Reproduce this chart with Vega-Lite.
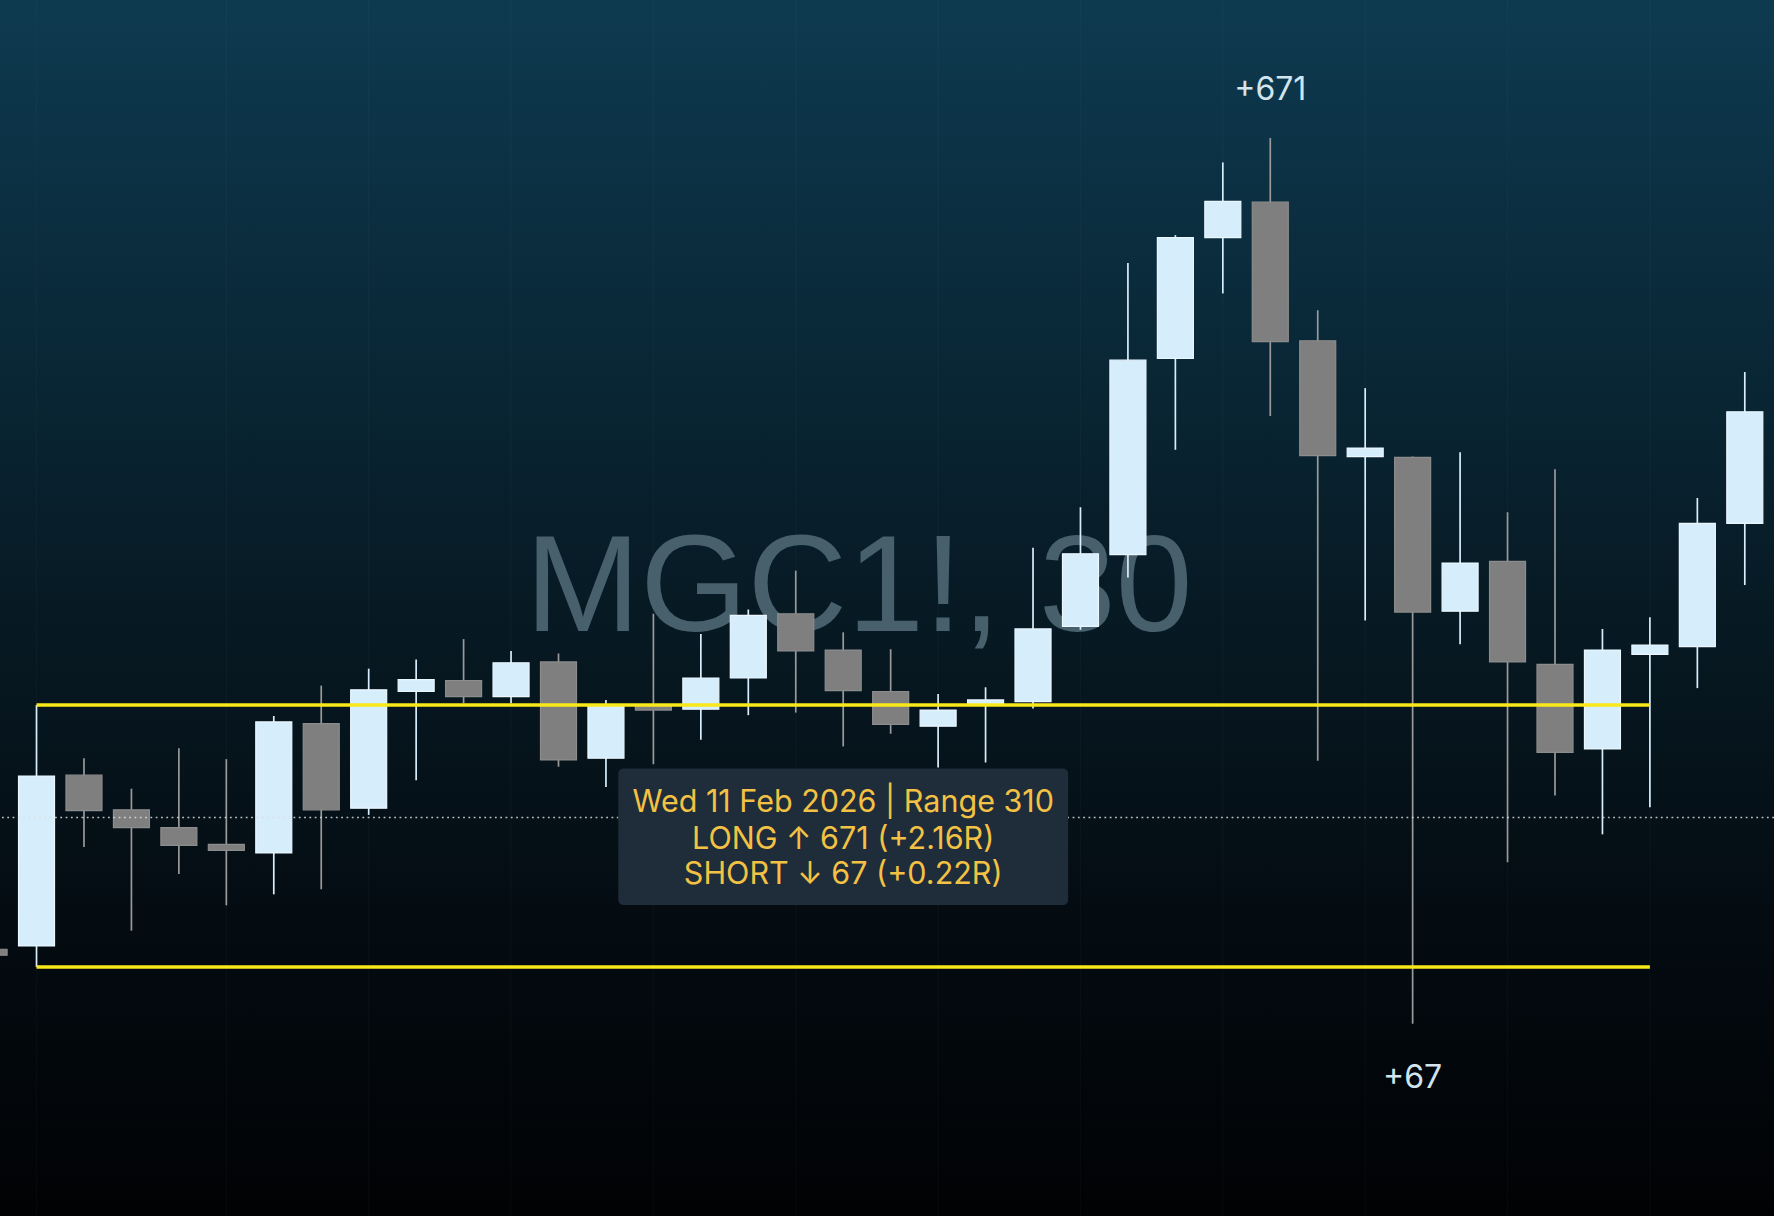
{
  "$schema": "https://vega.github.io/schema/vega-lite/v6.json",
  "autosize": {"type": "fit", "contains": "padding"},
  "width": 1774,
  "height": 1216,
  "padding": 0,
  "background": "#020406",
  "config": {"view": {"stroke": null}},
  "datasets": {
    "candles": [
      {"i": 0, "o": 21, "h": 32, "l": 8, "c": 14},
      {"i": 1, "o": 25, "h": 310, "l": 0, "c": 226},
      {"i": 2, "o": 227, "h": 247, "l": 142, "c": 185},
      {"i": 3, "o": 186, "h": 211, "l": 43, "c": 165},
      {"i": 4, "o": 165, "h": 259, "l": 110, "c": 144},
      {"i": 5, "o": 145, "h": 246, "l": 73, "c": 138},
      {"i": 6, "o": 135, "h": 297, "l": 86, "c": 290},
      {"i": 7, "o": 288, "h": 333, "l": 92, "c": 186},
      {"i": 8, "o": 188, "h": 353, "l": 180, "c": 328},
      {"i": 9, "o": 326, "h": 364, "l": 221, "c": 340},
      {"i": 10, "o": 339, "h": 388, "l": 312, "c": 320},
      {"i": 11, "o": 320, "h": 374, "l": 312, "c": 360},
      {"i": 12, "o": 361, "h": 371, "l": 237, "c": 245},
      {"i": 13, "o": 247, "h": 316, "l": 213, "c": 309},
      {"i": 14, "o": 309, "h": 418, "l": 240, "c": 304},
      {"i": 15, "o": 305, "h": 394, "l": 269, "c": 342},
      {"i": 16, "o": 342, "h": 423, "l": 298, "c": 416},
      {"i": 17, "o": 418, "h": 469, "l": 301, "c": 374},
      {"i": 18, "o": 375, "h": 396, "l": 261, "c": 327},
      {"i": 19, "o": 326, "h": 376, "l": 276, "c": 287},
      {"i": 20, "o": 285, "h": 323, "l": 236, "c": 304},
      {"i": 21, "o": 311, "h": 331, "l": 242, "c": 316},
      {"i": 22, "o": 314, "h": 496, "l": 306, "c": 400},
      {"i": 23, "o": 403, "h": 544, "l": 399, "c": 489},
      {"i": 24, "o": 488, "h": 833, "l": 461, "c": 718},
      {"i": 25, "o": 720, "h": 866, "l": 612, "c": 863},
      {"i": 26, "o": 863, "h": 952, "l": 797, "c": 906},
      {"i": 27, "o": 905, "h": 981, "l": 652, "c": 740},
      {"i": 28, "o": 741, "h": 777, "l": 244, "c": 605},
      {"i": 29, "o": 604, "h": 685, "l": 410, "c": 614},
      {"i": 30, "o": 603, "h": 604, "l": -67, "c": 420},
      {"i": 31, "o": 421, "h": 609, "l": 382, "c": 478},
      {"i": 32, "o": 480, "h": 538, "l": 124, "c": 361},
      {"i": 33, "o": 358, "h": 589, "l": 203, "c": 254},
      {"i": 34, "o": 258, "h": 400, "l": 157, "c": 375},
      {"i": 35, "o": 370, "h": 414, "l": 189, "c": 381},
      {"i": 36, "o": 379, "h": 555, "l": 330, "c": 525},
      {"i": 37, "o": 525, "h": 704, "l": 452, "c": 657}
    ],
    "grid": [{"i": 1}, {"i": 5}, {"i": 8}, {"i": 11}, {"i": 14}, {"i": 17}, {"i": 20}, {"i": 23}, {"i": 26}, {"i": 29}, {"i": 32}, {"i": 35}],
    "range": [{"start": 1, "end": 35, "v": 310}, {"start": 1, "end": 35, "v": 0}],
    "last": [{"v": 177}],
    "watermark": [{"i": 18.33, "v": 397, "label": "MGC1!, 30"}],
    "box": [{"i1": 13.26, "i2": 22.74, "v1": 235, "v2": 73.5}],
    "boxText": [
      {"i": 18.0, "v": 194.4, "label": "Wed 11 Feb 2026 | Range 310"},
      {"i": 18.0, "v": 150.3, "label": "LONG ↑ 671 (+2.16R)"},
      {"i": 18.0, "v": 108.3, "label": "SHORT ↓ 67 (+0.22R)"}
    ],
    "moves": [
      {"i": 27, "v": 1037.7, "label": "+671"},
      {"i": 30, "v": -131.3, "label": "+67"}
    ]
  },
  "layer": [
    {
      "data": {"values": [{}]},
      "mark": {
        "type": "rect",
        "fill": {
          "gradient": "linear", "x1": 0, "y1": 0, "x2": 0, "y2": 1,
          "stops": [
            {"offset": 0, "color": "#0e3a50"},
            {"offset": 0.25, "color": "#0a2a3a"},
            {"offset": 0.5, "color": "#071a24"},
            {"offset": 0.75, "color": "#040c12"},
            {"offset": 1, "color": "#010204"}
          ]
        }
      },
      "encoding": {}
    },
    {
      "data": {"name": "grid"},
      "mark": {"type": "rule", "color": "#ffffff", "opacity": 0.022, "strokeWidth": 1.5, "clip": true},
      "encoding": {
        "x": {"field": "i", "type": "quantitative", "axis": null, "scale": {"domain": [0.3357, 37.51], "nice": false, "zero": false}}
      }
    },
    {
      "data": {"name": "watermark"},
      "mark": {"type": "text", "font": "Liberation Sans", "fontSize": 138, "color": "#47606c", "align": "center", "baseline": "alphabetic", "clip": true},
      "encoding": {
        "x": {"field": "i", "type": "quantitative", "axis": null, "scale": {"domain": [0.3357, 37.51], "nice": false, "zero": false}},
        "y": {"field": "v", "type": "quantitative", "axis": null, "scale": {"domain": [-294.6, 1144.2], "nice": false, "zero": false}},
        "text": {"field": "label"}
      }
    },
    {
      "data": {"name": "candles"},
      "mark": {"type": "rule", "strokeWidth": 1.7, "clip": true},
      "encoding": {
        "x": {"field": "i", "type": "quantitative", "axis": null, "scale": {"domain": [0.3357, 37.51], "nice": false, "zero": false}},
        "y": {"field": "l", "type": "quantitative", "axis": null, "scale": {"domain": [-294.6, 1144.2], "nice": false, "zero": false}},
        "y2": {"field": "h"},
        "color": {"condition": {"test": "datum.c >= datum.o", "value": "#d8eefc"}, "value": "#9a9a9a"}
      }
    },
    {
      "data": {"name": "candles"},
      "mark": {"type": "bar", "size": 36, "strokeWidth": 1.2, "orient": "vertical", "clip": true},
      "encoding": {
        "x": {"field": "i", "type": "quantitative", "axis": null, "scale": {"domain": [0.3357, 37.51], "nice": false, "zero": false}},
        "y": {"field": "o", "type": "quantitative", "axis": null, "scale": {"domain": [-294.6, 1144.2], "nice": false, "zero": false}},
        "y2": {"field": "c"},
        "fill": {"condition": {"test": "datum.c >= datum.o", "value": "#d6edfc"}, "value": "#7f7f7f"},
        "stroke": {"condition": {"test": "datum.c >= datum.o", "value": "#eaf7ff"}, "value": "#8c8c8c"}
      }
    },
    {
      "data": {"name": "last"},
      "mark": {"type": "rule", "color": "#d8dfe3", "opacity": 0.85, "strokeWidth": 1.6, "strokeDash": [1.8, 3.5], "clip": true},
      "encoding": {
        "y": {"field": "v", "type": "quantitative", "axis": null, "scale": {"domain": [-294.6, 1144.2], "nice": false, "zero": false}}
      }
    },
    {
      "data": {"name": "range"},
      "mark": {"type": "rule", "color": "#f9e81a", "strokeWidth": 3.3, "clip": true},
      "encoding": {
        "x": {"field": "start", "type": "quantitative", "axis": null, "scale": {"domain": [0.3357, 37.51], "nice": false, "zero": false}},
        "x2": {"field": "end"},
        "y": {"field": "v", "type": "quantitative", "axis": null, "scale": {"domain": [-294.6, 1144.2], "nice": false, "zero": false}}
      }
    },
    {
      "data": {"name": "box"},
      "mark": {"type": "rect", "fill": "#1f2c39", "cornerRadius": 5, "clip": true},
      "encoding": {
        "x": {"field": "i1", "type": "quantitative", "axis": null, "scale": {"domain": [0.3357, 37.51], "nice": false, "zero": false}},
        "x2": {"field": "i2"},
        "y": {"field": "v1", "type": "quantitative", "axis": null, "scale": {"domain": [-294.6, 1144.2], "nice": false, "zero": false}},
        "y2": {"field": "v2"}
      }
    },
    {
      "data": {"name": "boxText"},
      "mark": {"type": "text", "font": "Inter", "fontSize": 30.5, "color": "#f3c244", "align": "center", "baseline": "middle", "clip": true},
      "encoding": {
        "x": {"field": "i", "type": "quantitative", "axis": null, "scale": {"domain": [0.3357, 37.51], "nice": false, "zero": false}},
        "y": {"field": "v", "type": "quantitative", "axis": null, "scale": {"domain": [-294.6, 1144.2], "nice": false, "zero": false}},
        "text": {"field": "label"}
      }
    },
    {
      "data": {"name": "moves"},
      "mark": {"type": "text", "font": "Inter", "fontSize": 32, "color": "#d2e4ee", "align": "center", "baseline": "middle", "clip": true},
      "encoding": {
        "x": {"field": "i", "type": "quantitative", "axis": null, "scale": {"domain": [0.3357, 37.51], "nice": false, "zero": false}},
        "y": {"field": "v", "type": "quantitative", "axis": null, "scale": {"domain": [-294.6, 1144.2], "nice": false, "zero": false}},
        "text": {"field": "label"}
      }
    }
  ]
}
